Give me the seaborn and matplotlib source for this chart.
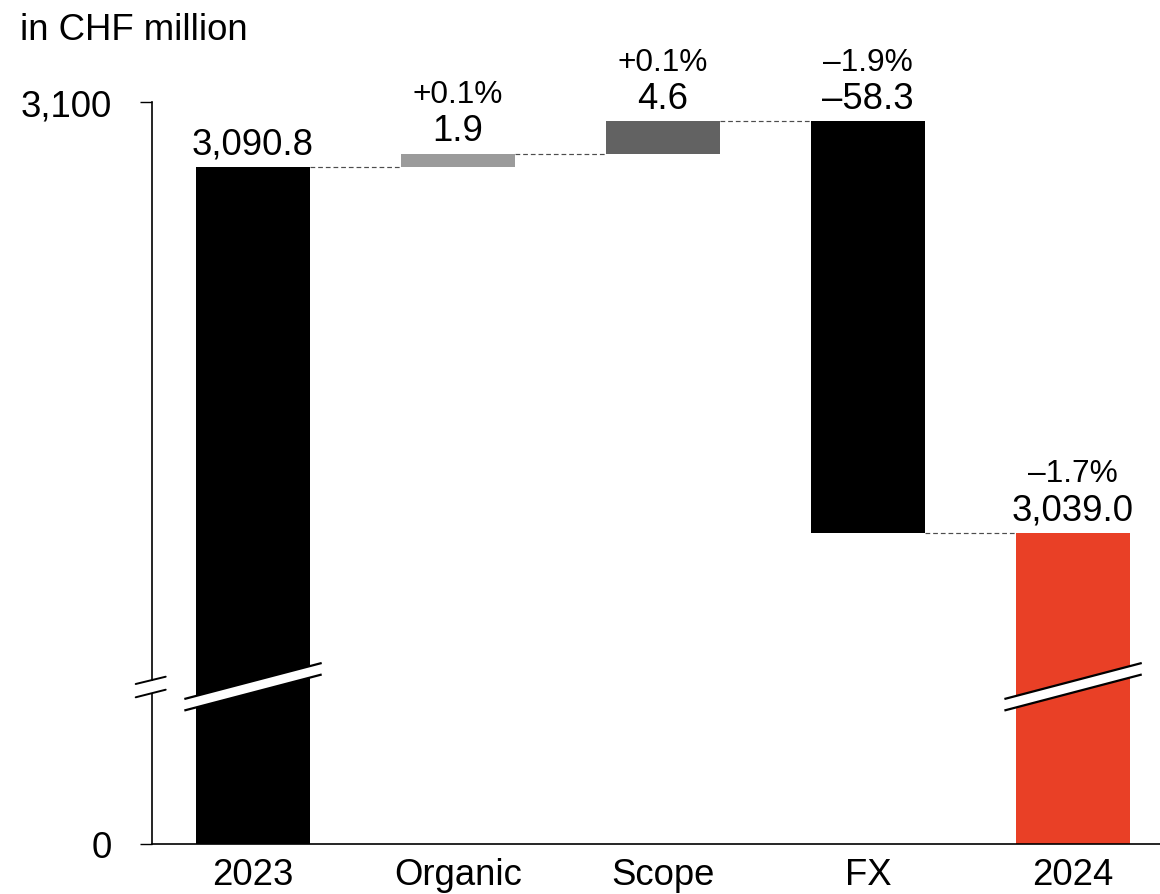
import numpy as np
import pandas as pd
import matplotlib
matplotlib.use("Agg")
import matplotlib.pyplot as plt
import matplotlib.transforms as mtransforms
import seaborn as sns

# ---- data -------------------------------------------------------------
steps = ["2023", "Organic", "Scope", "FX", "2024"]
amounts = [3090.8, 1.9, 4.6, -58.3, 3039.0]          # totals and changes
is_total = [True, False, False, False, True]
value_labels = ["3,090.8", "1.9", "4.6", "\u201358.3", "3,039.0"]
pct_labels = ["", "+0.1%", "+0.1%", "\u20131.9%", "\u20131.7%"]
bar_colors = ["#000000", "#9B9B9B", "#626262", "#000000", "#E94026"]
y_ticks = [0, 3100]
y_tick_labels = ["0", "3,100"]

# ---- waterfall geometry from the amounts ------------------------------
bottoms, heights, tops, levels = [], [], [], []
level = 0.0
for amt, tot in zip(amounts, is_total):
    if tot:
        bottoms.append(0.0)
        heights.append(amt)
        level = amt
    else:
        bottoms.append(level)
        heights.append(amt)
        level = level + amt
    levels.append(level)
    tops.append(max(bottoms[-1], bottoms[-1] + heights[-1]))

# ---- broken value axis: compressed below BREAK, expanded above ---------
BREAK = 3017.0
LOW_SPAN = 22.1          # height of the 0..BREAK section in upper-section units
k = LOW_SPAN / BREAK


def fwd(v):
    v = np.asarray(v, dtype=float)
    return np.where(v <= BREAK, v * k, LOW_SPAN + (v - BREAK))


def inv(u):
    u = np.asarray(u, dtype=float)
    return np.where(u <= LOW_SPAN, u / k, u - LOW_SPAN + BREAK)


# ---- figure -----------------------------------------------------------
sns.set_style("white")
plt.rcParams["font.family"] = ["Liberation Sans", "DejaVu Sans"]
plt.rcParams["text.color"] = "black"
plt.rcParams["xtick.color"] = "black"
plt.rcParams["ytick.color"] = "black"

W, H = 1160, 895
fig = plt.figure(figsize=(W / 100, H / 100), dpi=100)
ax_left, ax_right, ax_bottom, ax_top = 152, 1160, 845, 103
ax = fig.add_axes([ax_left / W, 1 - ax_bottom / H,
                   (ax_right - ax_left) / W, (ax_bottom - ax_top) / H])

BAR_W = 0.555
df = pd.DataFrame({"step": steps, "height": heights})
sns.barplot(data=df, x="step", y="height", bottom=bottoms, width=BAR_W,
            color="black", saturation=1, errorbar=None, linewidth=0,
            ax=ax)
for patch, c in zip(ax.patches, bar_colors):
    patch.set_facecolor(c)
    patch.set_edgecolor("none")

ax.set_yscale("function", functions=(fwd, inv))
ax.set_ylim(0, 3100)
ax.set_xlim(-0.4927, 4.424)

# connectors between consecutive bars
for i in range(len(steps) - 1):
    ax.plot([i + BAR_W / 2, i + 1 - BAR_W / 2], [levels[i], levels[i]],
            color="#4d4d4d", lw=0.85, ls=(0, (4, 2.5)), zorder=3)

# value and percentage labels
for i in range(len(steps)):
    ax.annotate(value_labels[i], xy=(i, tops[i]), xytext=(0, 9.6),
                textcoords="offset points", ha="center", va="baseline",
                fontsize=26.3, color="black")
    if pct_labels[i]:
        ax.annotate(pct_labels[i], xy=(i, tops[i]), xytext=(0, 37),
                    textcoords="offset points", ha="center", va="baseline",
                    fontsize=22.8, color="black")

# axes styling
for s in ["top", "right"]:
    ax.spines[s].set_visible(False)
for s in ["left", "bottom"]:
    ax.spines[s].set_linewidth(1.2)
    ax.spines[s].set_color("black")
ax.set_yticks(y_ticks)
ax.set_yticklabels(y_tick_labels)
ax.set_xlabel("")
ax.set_ylabel("")
ax.tick_params(axis="y", length=8.6, width=1.0, direction="out", pad=20,
               labelsize=26.3, left=True, colors="black", labelcolor="black")
ax.tick_params(axis="x", length=0, pad=9.5, labelsize=26.3,
               colors="black", labelcolor="black")
ax.grid(False)

# break symbols across the tall bars
px_w = ax_right - ax_left
px_h = ax_bottom - ax_top


def yf(py):
    return (ax_bottom - py) / px_h


blend = mtransforms.blended_transform_factory(ax.transData, ax.transAxes)
half = 0.335
top_line = (yf(700), yf(664))
bot_line = (yf(711.5), yf(675.5))
for i in [0, 4]:
    xs = [i - half, i + half]
    ax.fill([xs[0], xs[1], xs[1], xs[0]],
            [top_line[0], top_line[1], bot_line[1], bot_line[0]],
            color="white", transform=blend, zorder=4, clip_on=False, lw=0)
    ax.plot(xs, top_line, color="black", lw=1.6, transform=blend, zorder=5,
            clip_on=False, solid_capstyle="butt")
    ax.plot(xs, bot_line, color="black", lw=1.6, transform=blend, zorder=5,
            clip_on=False, solid_capstyle="butt")

# gap and slashes on the value axis
ax.fill([-0.006, 0.006, 0.006, -0.006],
        [yf(694.5), yf(694.5), yf(681.5), yf(681.5)],
        color="white", transform=ax.transAxes, zorder=6, clip_on=False, lw=0)
sx = [(135.7 - ax_left) / px_w, (165.7 - ax_left) / px_w]
ax.plot(sx, [yf(685), yf(677.7)], color="black", lw=1.4,
        transform=ax.transAxes, zorder=7, clip_on=False)
ax.plot(sx, [yf(698.3), yf(690.7)], color="black", lw=1.4,
        transform=ax.transAxes, zorder=7, clip_on=False)

fig.text(20 / W, 1 - 40 / H, "in CHF million", fontsize=26.3,
         ha="left", va="baseline", color="black")

fig.savefig("out.png", dpi=100)
